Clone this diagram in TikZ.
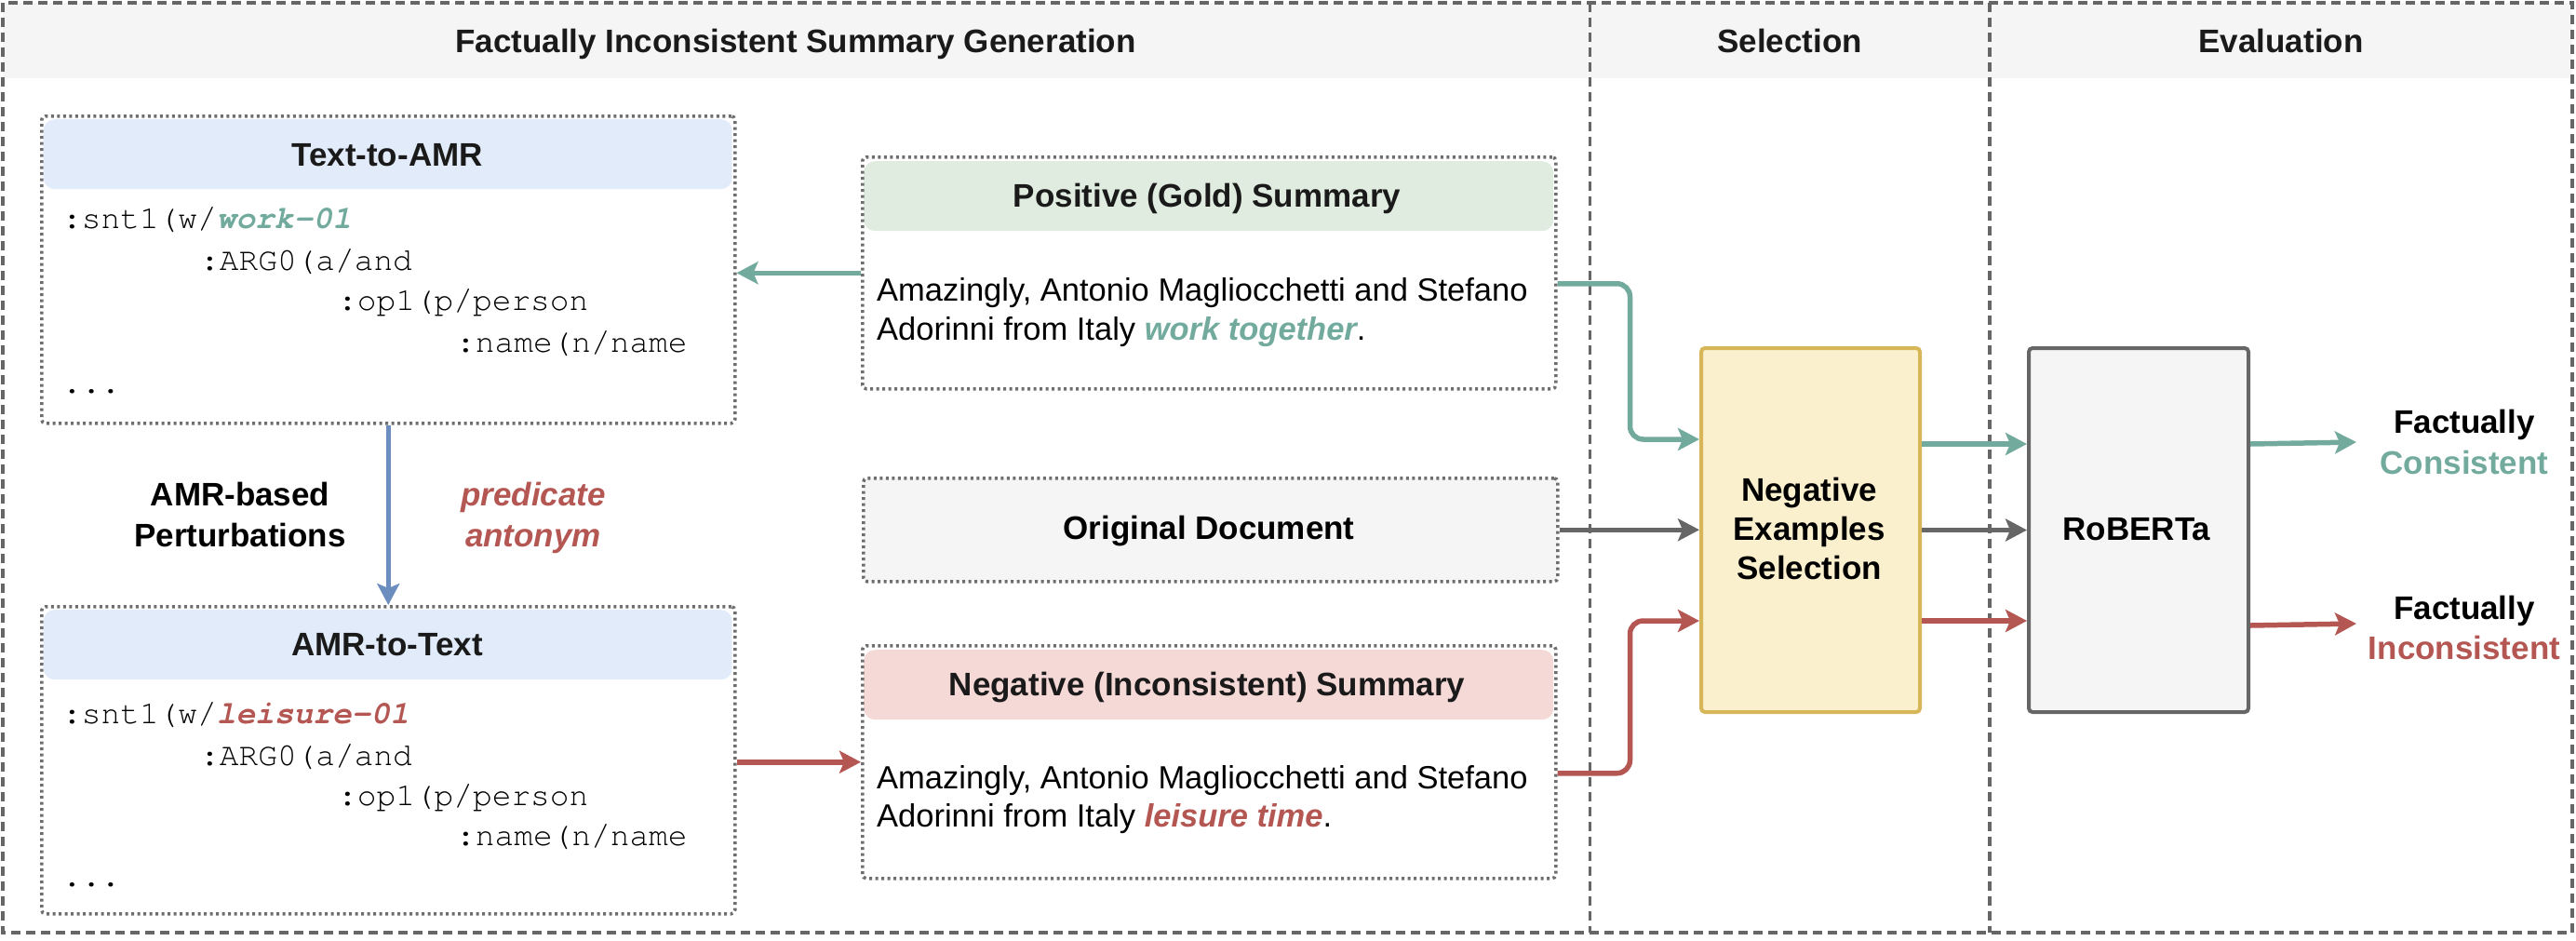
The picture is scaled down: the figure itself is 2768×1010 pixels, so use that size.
\documentclass[tikz,border=0pt]{standalone}
\usepackage{fontspec}
\setmainfont{Liberation Sans}
\newfontfamily\codefont{TeX Gyre Cursor}
\usetikzlibrary{arrows.meta}

\definecolor{gcol}{HTML}{72AB9D}
\definecolor{rcol}{HTML}{B45652}
\definecolor{bcol}{HTML}{6C8EBF}
\definecolor{dgray}{HTML}{666666}
\definecolor{dotgray}{HTML}{6E6E6E}
\definecolor{bandgray}{HTML}{F5F5F5}
\definecolor{hblue}{HTML}{E1EBF9}
\definecolor{hgreen}{HTML}{E0ECDF}
\definecolor{hred}{HTML}{F5D9D7}
\definecolor{yfill}{HTML}{FBF0CD}
\definecolor{ydraw}{HTML}{D6B656}
\definecolor{ink}{HTML}{1A1A1A}

\tikzset{
  frame/.style={draw=dgray, line width=3.5pt, dash pattern=on 10pt off 6pt},
  lbl/.style={font=\fontsize{35}{42}\selectfont\bfseries, inner sep=0pt, anchor=base, text=ink},
  bodytxt/.style={font=\fontsize{34.5}{42}\selectfont, inner sep=0pt, anchor=base west},
  codetxt/.style={font=\codefont\fontsize{34.5}{44}\selectfont, inner sep=0pt, anchor=base west},
  dotbox/.style={draw=dotgray, line width=3.5pt, dash pattern=on 3pt off 3.5pt,
    rounded corners=4pt, anchor=north west, inner sep=0pt},
  hdr/.style={fill=#1, rounded corners=12pt, anchor=north west, inner sep=0pt,
    minimum height=75pt, minimum width=740pt},
  solidbox/.style={line width=4pt, rounded corners=4pt, anchor=north west, inner sep=0pt,
    minimum width=235pt, minimum height=391pt},
  flow/.style={line width=5.5pt, rounded corners=14pt,
    -{Stealth[length=23pt,width=24pt,inset=5pt]}},
}

\begin{document}
\begin{tikzpicture}[x=1pt,y=-1pt]
\useasboundingbox (0,0) rectangle (2768,1010);

% title band and lane frame
\fill[bandgray] (3,3) rectangle (2764,84);
\draw[frame] (3,3) rectangle (2764,1002);
\draw[frame] (1708.5,3) -- (1708.5,1002);
\draw[frame] (2138,3) -- (2138,1002);

\node[lbl] (lanegen) at (855,56) {Factually Inconsistent Summary Generation};
\node[lbl] (lanesel) at (1923,56) {Selection};
\node[lbl] (laneeval) at (2451,56) {Evaluation};

% ---- Text-to-AMR ----
\node[hdr=hblue] (t2ahdr) at (46.5,128) {};
\node[lbl] (t2atitle) at (416,178) {Text-to-AMR};
\node[dotbox, minimum width=745pt, minimum height=330pt] (t2a) at (43,123) {};
\node[codetxt] (t2al1) at (67,245) {:snt1(w/{\bfseries\itshape\color{gcol}work-01}};
\node[codetxt] (t2al2) at (215,290) {:ARG0(a/and};
\node[codetxt] (t2al3) at (363,333) {:op1(p/person};
\node[codetxt] (t2al4) at (490,378) {:name(n/name};
\node[codetxt] (t2al5) at (67,422) {...};

% ---- perturbation labels ----
\node[lbl, text=black] (pert1) at (258,543) {AMR-based};
\node[lbl, text=black] (pert2) at (258,587) {Perturbations};
\node[lbl, font=\fontsize{35}{42}\selectfont\bfseries\itshape, text=rcol] (ant1) at (573,543) {predicate};
\node[lbl, font=\fontsize{35}{42}\selectfont\bfseries\itshape, text=rcol] (ant2) at (573,587) {antonym};

% ---- AMR-to-Text ----
\node[hdr=hblue] (a2thdr) at (46.5,655) {};
\node[lbl] (a2ttitle) at (416,704) {AMR-to-Text};
\node[dotbox, minimum width=745pt, minimum height=330pt] (a2t) at (43,650) {};
\node[codetxt] (a2tl1) at (67,777) {:snt1(w/{\bfseries\itshape\color{rcol}leisure-01}};
\node[codetxt] (a2tl2) at (215,822) {:ARG0(a/and};
\node[codetxt] (a2tl3) at (363,865) {:op1(p/person};
\node[codetxt] (a2tl4) at (490,908) {:name(n/name};
\node[codetxt] (a2tl5) at (67,952) {...};

% ---- Positive summary ----
\node[hdr=hgreen, minimum width=741pt] (poshdr) at (928,173) {};
\node[lbl] (postitle) at (1297,222) {Positive (Gold) Summary};
\node[dotbox, minimum width=745pt, minimum height=249pt] (pos) at (925,167) {};
\node[bodytxt] (posl1) at (942,323) {Amazingly, Antonio Magliocchetti and Stefano};
\node[bodytxt] (posl2) at (942,365) {Adorinni from Italy {\bfseries\itshape\color{gcol}work together}.};

% ---- Original document ----
\node[dotbox, fill=bandgray, minimum width=746pt, minimum height=111pt] (orig) at (926,512) {};
\node[lbl, text=black] (origtitle) at (1299,579) {Original Document};

% ---- Negative summary ----
\node[hdr=hred, minimum width=741pt] (neghdr) at (928,698) {};
\node[lbl] (negtitle) at (1297,747) {Negative (Inconsistent) Summary};
\node[dotbox, minimum width=745pt, minimum height=250pt] (neg) at (925,692) {};
\node[bodytxt] (negl1) at (942,847) {Amazingly, Antonio Magliocchetti and Stefano};
\node[bodytxt] (negl2) at (942,888) {Adorinni from Italy {\bfseries\itshape\color{rcol}leisure time}.};

% ---- Selection ----
\node[solidbox, fill=yfill, draw=ydraw] (sel) at (1826,372) {};
\node[lbl, text=black] (sell1) at (1944,538) {Negative};
\node[lbl, text=black] (sell2) at (1944,580) {Examples};
\node[lbl, text=black] (sell3) at (1944,622) {Selection};

% ---- Evaluation ----
\node[solidbox, fill=bandgray, draw=dgray, minimum width=236pt] (rob) at (2178,372) {};
\node[lbl, text=black] (robtitle) at (2296,580) {RoBERTa};

\node[lbl, text=black] (fc1) at (2648,465) {Factually};
\node[lbl, text=gcol] (fc2) at (2648,509) {Consistent};
\node[lbl, text=black] (fi1) at (2648,665) {Factually};
\node[lbl, text=rcol] (fi2) at (2648,708) {Inconsistent};
\coordinate (outC) at (2532,475);
\coordinate (outI) at (2532,670);

% ---- connectors ----
\draw[flow, gcol] (pos.west) -- (pos.west -| t2a.east);
\draw[flow, bcol] (t2a.south) -- (a2t.north);
\draw[flow, rcol] (neg.west -| a2t.east) -- (neg.west);

\draw[flow, gcol] ([yshift=-11.5pt]pos.east) -- ++(78,0) |- ([yshift=97.5pt]sel.west);
\draw[flow, dgray] (orig.east) -- (orig.east -| sel.west);
\draw[flow, rcol] ([yshift=-12pt]neg.east) -- ++(78,0) |- ([yshift=-97.5pt]sel.west);

\draw[flow, gcol] ([yshift=92.5pt]sel.east) -- ([yshift=92.5pt]rob.west);
\draw[flow, dgray] (sel.east) -- (rob.west);
\draw[flow, rcol] ([yshift=-97.5pt]sel.east) -- ([yshift=-97.5pt]rob.west);

\draw[flow, gcol] ([yshift=92.5pt]rob.east) -- (outC);
\draw[flow, rcol] ([yshift=-102.5pt]rob.east) -- (outI);
\end{tikzpicture}
\end{document}
